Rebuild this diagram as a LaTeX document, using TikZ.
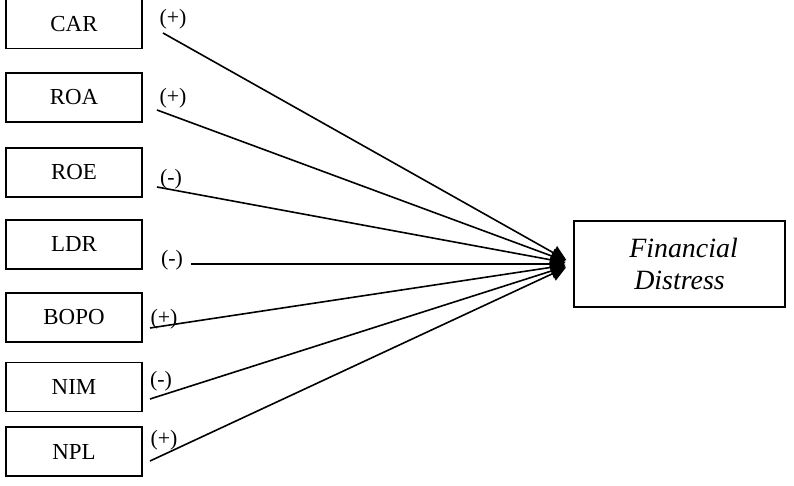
\documentclass[tikz,border=0pt]{standalone}
\usepackage{fontspec}
\setmainfont{Liberation Serif}
\usetikzlibrary{arrows.meta}
\begin{document}
\begin{tikzpicture}[x=1bp,y=-1bp,
  varbox/.style={draw,line width=1.3bp,minimum width=136bp,minimum height=49bp,inner sep=0pt,
    font=\fontsize{23}{26}\selectfont},
  sign/.style={inner sep=0pt,font=\fontsize{22}{24}\selectfont},
  link/.style={line width=1.6bp,-{Triangle[length=15bp,width=15bp]},shorten >=8bp}]
\useasboundingbox (0,0) rectangle (794,486);
\node[varbox] (car)  at (74,24) {CAR};
\node[varbox] (roa)  at (74,97.5) {ROA};
\node[varbox] (roe)  at (74,172.5) {ROE};
\node[varbox] (ldr)  at (74,244.5) {LDR};
\node[varbox] (bopo) at (74,317.5) {BOPO};
\node[varbox] (nim)  at (74,387) {NIM};
\node[varbox] (npl)  at (74,451.5) {NPL};
\node[draw,line width=1.3bp,minimum width=211bp,minimum height=86bp,inner sep=0pt,
  align=center,font=\fontsize{28}{32}\selectfont\itshape] (fd) at (679.5,264) {\hspace*{8bp}Financial\\Distress};
\coordinate (scar) at (163,33);
\coordinate (sroa) at (157,110);
\coordinate (sroe) at (157,187);
\coordinate (sldr) at (191,264);
\coordinate (sbopo) at (150,328);
\coordinate (snim) at (150,399);
\coordinate (snpl) at (150,461);
\foreach \s in {scar,sroa,sroe,sldr,sbopo,snim,snpl}
  \draw[link] (\s) -- (fd.west);
\node[sign] (lcar) at (173,19) {(+)};
\node[sign] (lroa) at (173,98) {(+)};
\node[sign] (lroe) at (171,179) {(-)};
\node[sign] (lldr) at (172,260) {(-)};
\node[sign] (lbopo) at (164,319) {(+)};
\node[sign] (lnim) at (161,381) {(-)};
\node[sign] (lnpl) at (164,440) {(+)};
\end{tikzpicture}
\end{document}
